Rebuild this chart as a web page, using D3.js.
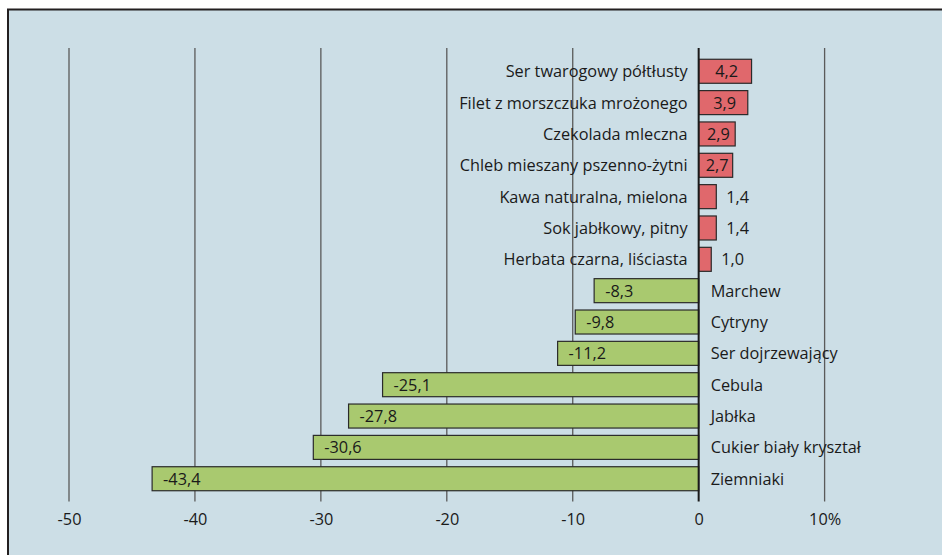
<!DOCTYPE html>
<html><head><meta charset="utf-8">
<script src="https://cdn.jsdelivr.net/npm/d3@7"></script>
<style>html,body{margin:0;padding:0;background:#fff;overflow:hidden}</style>
</head><body>
<svg id="chart" width="942" height="555"></svg>
<script>
const categories = ["Ser twarogowy półtłusty","Filet z morszczuka mrożonego","Czekolada mleczna","Chleb mieszany pszenno-żytni","Kawa naturalna, mielona","Sok jabłkowy, pitny","Herbata czarna, liściasta","Marchew","Cytryny","Ser dojrzewający","Cebula","Jabłka","Cukier biały kryształ","Ziemniaki"];
const values = [4.2,3.9,2.9,2.7,1.4,1.4,1.0,-8.3,-9.8,-11.2,-25.1,-27.8,-30.6,-43.4];
const tickValues = [-50,-40,-30,-20,-10,0,10];
const tickLabels = ["-50","-40","-30","-20","-10","0","10%"];

const FONT = "Open Sans, sans-serif";
const svg = d3.select("#chart");
svg.append("rect").attr("x",8).attr("y",9.5).attr("width",960).attr("height",570)
  .attr("fill","#ccdee6").attr("stroke","#231f20").attr("stroke-width",2);

const x = d3.scaleLinear().domain([-50,10]).range([69,824.6]);
const y = d3.scaleBand().domain(categories).range([55.6,494.4]).paddingInner(0.234).paddingOuter(0.117);

// gridlines
svg.append("g").selectAll("line").data(tickValues.filter(v=>v!==0)).join("line")
  .attr("x1",d=>x(d)).attr("x2",d=>x(d)).attr("y1",48).attr("y2",501.5)
  .attr("stroke","#5a5a5a").attr("stroke-width",1.3);

// bars
const data = categories.map((c,i)=>({c, v:values[i]}));
svg.append("g").selectAll("rect").data(data).join("rect")
  .attr("x",d=>x(Math.min(0,d.v))).attr("y",d=>y(d.c))
  .attr("width",d=>Math.abs(x(d.v)-x(0))).attr("height",y.bandwidth())
  .attr("fill",d=>d.v>0?"#e0686c":"#a9c96f")
  .attr("stroke","#2a2a2a").attr("stroke-width",1.2);

// zero line
svg.append("line").attr("x1",x(0)).attr("x2",x(0)).attr("y1",48).attr("y2",501.5)
  .attr("stroke","#1a1a1a").attr("stroke-width",2);

const fmt = v => String(v.toFixed(1)).replace(".",",");
const fs = 16.3;
// value labels
svg.append("g").selectAll("text").data(data).join("text")
  .attr("font-family",FONT).attr("font-size",fs).attr("fill","#1a1a1a")
  .attr("dominant-baseline","central")
  .attr("y",d=>y(d.c)+y.bandwidth()/2)
  .attr("x",d=>{
    if(d.v<0) return x(d.v)+11;
    if(d.v>=2) return (x(0)+x(d.v))/2+1.5;
    return x(d.v)+10;
  })
  .attr("text-anchor",d=>(d.v>0 && d.v>=2)?"middle":"start")
  .text(d=>fmt(d.v));

// category labels
svg.append("g").selectAll("text").data(data).join("text")
  .attr("font-family",FONT).attr("font-size",fs).attr("fill","#1a1a1a")
  .attr("dominant-baseline","central")
  .attr("y",d=>y(d.c)+y.bandwidth()/2)
  .attr("x",d=>d.v>0?x(0)-11:x(0)+12)
  .attr("text-anchor",d=>d.v>0?"end":"start")
  .text(d=>d.c);

// axis
const axis = d3.axisBottom(x).tickValues(tickValues).tickSize(0).tickPadding(0)
  .tickFormat((d,i)=>tickLabels[i]);
const ax = svg.append("g").attr("transform","translate(0,513)").call(axis);
ax.select(".domain").remove();
ax.selectAll("text").attr("font-family",FONT).attr("font-size",fs).attr("fill","#1a1a1a");
</script>
</body></html>
